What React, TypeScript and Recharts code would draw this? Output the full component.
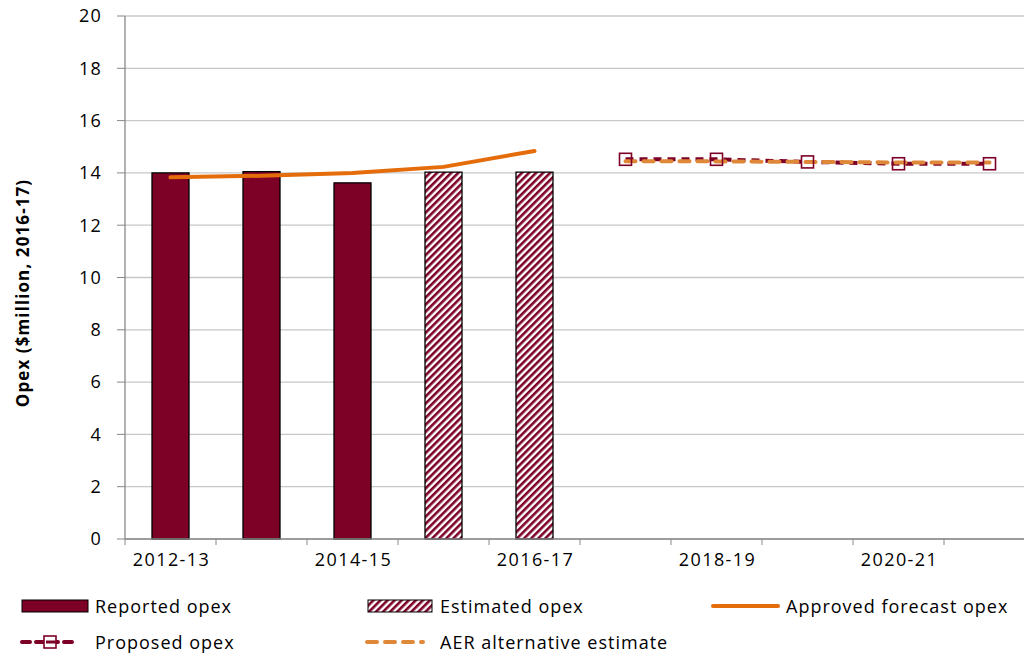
import React from "react";
import {
  ComposedChart,
  Bar,
  Line,
  XAxis,
  YAxis,
  CartesianGrid,
} from "recharts";

const YEARS = [
  "2012-13",
  "2013-14",
  "2014-15",
  "2015-16",
  "2016-17",
  "2017-18",
  "2018-19",
  "2019-20",
  "2020-21",
  "2021-22",
];
const REPORTED = [14.0, 14.05, 13.62, null, null, null, null, null, null, null];
const ESTIMATED = [null, null, null, 14.03, 14.03, null, null, null, null, null];
const APPROVED = [13.83, 13.89, 14.0, 14.23, 14.84, null, null, null, null, null];
const PROPOSED = [null, null, null, null, null, 14.52, 14.52, 14.42, 14.35, 14.35];
const AER_ALT = [null, null, null, null, null, 14.45, 14.44, 14.42, 14.4, 14.4];
const Y_TICKS = [0, 2, 4, 6, 8, 10, 12, 14, 16, 18, 20];

const DARK_RED = "#7d0026";
const ORANGE = "#e46c0a";
const LIGHT_ORANGE = "#e0883a";
const FONT = "'Open Sans', sans-serif";

const data = YEARS.map((year, i) => ({
  year,
  reported: REPORTED[i],
  estimated: ESTIMATED[i],
  approved: APPROVED[i],
  proposed: PROPOSED[i],
  aer: AER_ALT[i],
}));

function XTick(props: any) {
  const { x, y, payload, index } = props;
  const half = payload.offset || 0;
  return (
    <g>
      <line x1={x - half} x2={x - half} y1={y - 8} y2={y - 2} stroke="#888" />
      {index === YEARS.length - 1 && (
        <line x1={x + half} x2={x + half} y1={y - 8} y2={y - 2} stroke="#888" />
      )}
      {index % 2 === 0 && (
        <text
          x={x + 1}
          y={y + 19}
          textAnchor="middle"
          fontSize={18}
          letterSpacing={1.4}
          fill="#000"
          fontFamily={FONT}
        >
          {payload.value}
        </text>
      )}
    </g>
  );
}

function YLabel(props: any) {
  const cx = 22;
  const cy = 293;
  return (
    <text
      x={cx}
      y={cy}
      transform={`rotate(-90, ${cx}, ${cy})`}
      textAnchor="middle"
      dominantBaseline="central"
      fontSize={17}
      fontWeight="bold"
      letterSpacing={1.1}
      fontFamily={FONT}
      fill="#000"
    >
      Opex ($million, 2016-17)
    </text>
  );
}

function SquareDot(props: any) {
  const { cx, cy, value } = props;
  if (value == null || cx == null) return null;
  return (
    <rect x={cx - 6} y={cy - 6} width={12} height={12} fill="none" stroke={DARK_RED} strokeWidth={1.6} />
  );
}

const legendText: React.CSSProperties = {
  position: "absolute",
  fontSize: 18,
  fontFamily: FONT,
  letterSpacing: 1,
  color: "#000",
  lineHeight: "20px",
  whiteSpace: "nowrap",
};

function Legend() {
  return (
    <>
      <svg style={{ position: "absolute", left: 0, top: 590 }} width={1024} height={67}>
        <rect x={22} y={10} width={66} height={12} fill={DARK_RED} stroke="#000" strokeWidth={1} />
        <rect x={368} y={10} width={64} height={12} fill="url(#hatch)" stroke="#000" strokeWidth={1} />
        <line x1={713} x2={778} y1={16} y2={16} stroke={ORANGE} strokeWidth={4} strokeLinecap="round" />
        <line x1={22} x2={78} y1={52} y2={52} stroke={DARK_RED} strokeWidth={4} strokeDasharray="8 6" strokeLinecap="round" />
        <rect x={44} y={46} width={12} height={12} fill="white" stroke={DARK_RED} strokeWidth={1.6} />
        <line x1={46} x2={58} y1={52} y2={52} stroke={DARK_RED} strokeWidth={3} />
        <line x1={367} x2={423} y1={52} y2={52} stroke={LIGHT_ORANGE} strokeWidth={4} strokeDasharray="10 8" strokeLinecap="round" />
      </svg>
      <div style={{ ...legendText, left: 95, top: 596 }}>Reported opex</div>
      <div style={{ ...legendText, left: 440, top: 596 }}>Estimated opex</div>
      <div style={{ ...legendText, left: 786, top: 596 }}>Approved forecast opex</div>
      <div style={{ ...legendText, left: 95, top: 632 }}>Proposed opex</div>
      <div style={{ ...legendText, left: 440, top: 632 }}>AER alternative estimate</div>
    </>
  );
}

export default function App() {
  return (
    <div
      style={{
        position: "absolute",
        left: 0,
        top: 0,
        width: 1024,
        height: 657,
        overflow: "hidden",
        background: "#fff",
      }}
    >
      <svg width={0} height={0} style={{ position: "absolute" }}>
        <defs>
          <pattern id="hatch" width={5} height={5} patternUnits="userSpaceOnUse" patternTransform="rotate(45)">
            <rect width={5} height={5} fill="#fff" />
            <rect width={2.6} height={5} fill={DARK_RED} />
          </pattern>
        </defs>
      </svg>
      <ComposedChart
        width={1050}
        height={580}
        data={data}
        margin={{ top: 16, right: 15, bottom: 6, left: 0 }}
        barCategoryGap={27}
        style={{ fontFamily: FONT }}
      >
        <defs>
          <pattern id="hatchBar" width={5} height={5} patternUnits="userSpaceOnUse" patternTransform="rotate(45)">
            <rect width={5} height={5} fill="#fff" />
            <rect width={2.6} height={5} fill={DARK_RED} />
          </pattern>
        </defs>
        <CartesianGrid vertical={false} stroke="#c8c8c8" strokeWidth={1.3} />
        <XAxis
          dataKey="year"
          interval={0}
          tickLine={false}
          axisLine={{ stroke: "#888", strokeWidth: 1.3 }}
          tick={<XTick />}
          height={35}
        />
        <YAxis
          domain={[0, 20]}
          ticks={Y_TICKS}
          width={125}
          tickSize={8}
          tickMargin={15}
          axisLine={{ stroke: "#888", strokeWidth: 1.3 }}
          tickLine={{ stroke: "#888" }}
          tick={{ fontSize: 18, fill: "#000", fontFamily: FONT, letterSpacing: 1.2 }}
          label={<YLabel />}
        />
        <Bar dataKey="reported" stackId="a" fill={DARK_RED} stroke="#000" strokeWidth={1.3} isAnimationActive={false} />
        <Bar dataKey="estimated" stackId="a" fill="url(#hatchBar)" stroke="#000" strokeWidth={1.3} isAnimationActive={false} />
        <Line
          dataKey="approved"
          stroke={ORANGE}
          strokeWidth={4}
          dot={false}
          strokeLinecap="round"
          isAnimationActive={false}
        />
        <Line
          dataKey="proposed"
          stroke={DARK_RED}
          strokeWidth={4}
          strokeDasharray="8 6"
          dot={<SquareDot />}
          isAnimationActive={false}
        />
        <Line
          dataKey="aer"
          stroke={LIGHT_ORANGE}
          strokeWidth={4}
          strokeDasharray="10 8"
          strokeLinecap="round"
          dot={false}
          isAnimationActive={false}
        />
      </ComposedChart>
      <Legend />
    </div>
  );
}
